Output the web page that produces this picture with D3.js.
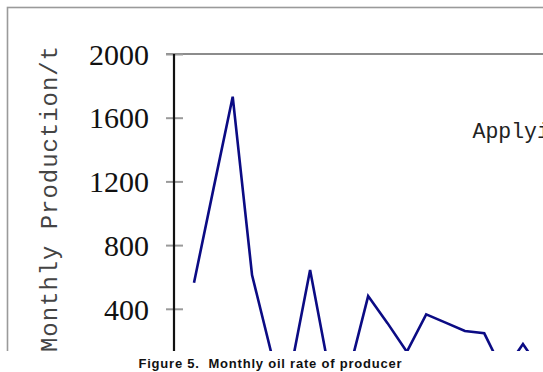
<!DOCTYPE html>
<html>
<head>
<meta charset="utf-8">
<script src="https://cdn.jsdelivr.net/npm/d3@7"></script>
<style>
  html, body { margin: 0; padding: 0; background: #fff; }
  svg { display: block; }
</style>
</head>
<body>
<svg id="chart" width="543" height="372"></svg>
<script>
// Monthly oil production of the producer, tonnes per month
const months = [1, 2, 3, 4, 5, 6, 7, 8, 9, 10, 11, 12, 13, 14, 15, 16, 17, 18, 19];
const production = [564, 1150, 1732, 612, 120, 16, 644, 0, 0, 480, 310, 130, 365, 313, 261, 246, 0, 179, 0];
const yTicks = [400, 800, 1200, 1600, 2000];
const yTitle = "Monthly Production/t";
const noteText = "Applying";
const caption = "Figure 5.  Monthly oil rate of producer";

const svg = d3.select("#chart");
const W = 543, H = 372;

const axisX = 174, plotTop = 54;
const x = d3.scaleLinear().domain([1, 19]).range([194, 542.3]);
const y = d3.scaleLinear().domain([0, 2000]).range([372.5, plotTop]);

// the figure panel is cropped just above the caption
svg.append("defs").append("clipPath").attr("id", "panel")
  .append("rect").attr("x", 0).attr("y", 0).attr("width", W).attr("height", 351);

const panel = svg.append("g").attr("clip-path", "url(#panel)");

// outer frame of the figure
panel.append("rect")
  .attr("x", 7.5).attr("y", 7.5)
  .attr("width", 800).attr("height", 600)
  .attr("fill", "none").attr("stroke", "#9a9a9a").attr("stroke-width", 1.6);

// top border of the plot area
panel.append("line")
  .attr("x1", 166).attr("x2", W + 10)
  .attr("y1", plotTop).attr("y2", plotTop)
  .attr("stroke", "#8c8c8c").attr("stroke-width", 2);

// y axis with ticks crossing the axis line
const yAxis = d3.axisLeft(y).tickValues(yTicks).tickFormat(d3.format("d")).tickSize(8);
const gy = panel.append("g").attr("transform", `translate(${axisX},0)`).call(yAxis);
gy.select(".domain").remove();
gy.selectAll(".tick line")
  .attr("x1", 9).attr("x2", -8)
  .attr("stroke", "#9a9a9a").attr("stroke-width", 2);
gy.selectAll(".tick text")
  .attr("x", -25).attr("dy", "0.34em")
  .attr("fill", "#111")
  .style("font-family", "'Liberation Serif', 'DejaVu Serif', serif")
  .style("font-size", "30px");
gy.append("line")
  .attr("x1", 0).attr("x2", 0)
  .attr("y1", plotTop).attr("y2", y(0))
  .attr("stroke", "#111").attr("stroke-width", 2.2);

// production curve
const line = d3.line().x((d, i) => x(months[i])).y(d => y(d));
panel.append("path")
  .datum(production)
  .attr("d", line)
  .attr("fill", "none")
  .attr("stroke", "#0b0b84")
  .attr("stroke-width", 2.6)
  .attr("stroke-linejoin", "miter");

// annotation inside the plot
panel.append("text")
  .attr("x", 472.5).attr("y", 138)
  .attr("fill", "#222")
  .style("font-family", "'Liberation Mono', 'DejaVu Sans Mono', monospace")
  .style("font-size", "21.5px")
  .text(noteText);

// rotated axis title
panel.append("text")
  .attr("transform", "translate(57,46) rotate(-90)")
  .attr("text-anchor", "end")
  .attr("textLength", 306)
  .attr("lengthAdjust", "spacing")
  .attr("fill", "#444")
  .style("font-family", "'Liberation Mono', 'DejaVu Sans Mono', monospace")
  .style("font-size", "24px")
  .text(yTitle);

// figure caption
svg.append("text")
  .attr("x", 270).attr("y", 368)
  .attr("text-anchor", "middle")
  .attr("textLength", 263)
  .attr("fill", "#111")
  .style("white-space", "pre")
  .style("font-family", "'Liberation Sans', Arial, sans-serif")
  .style("font-weight", "bold")
  .style("font-size", "13px")
  .text(caption);
</script>
</body>
</html>
